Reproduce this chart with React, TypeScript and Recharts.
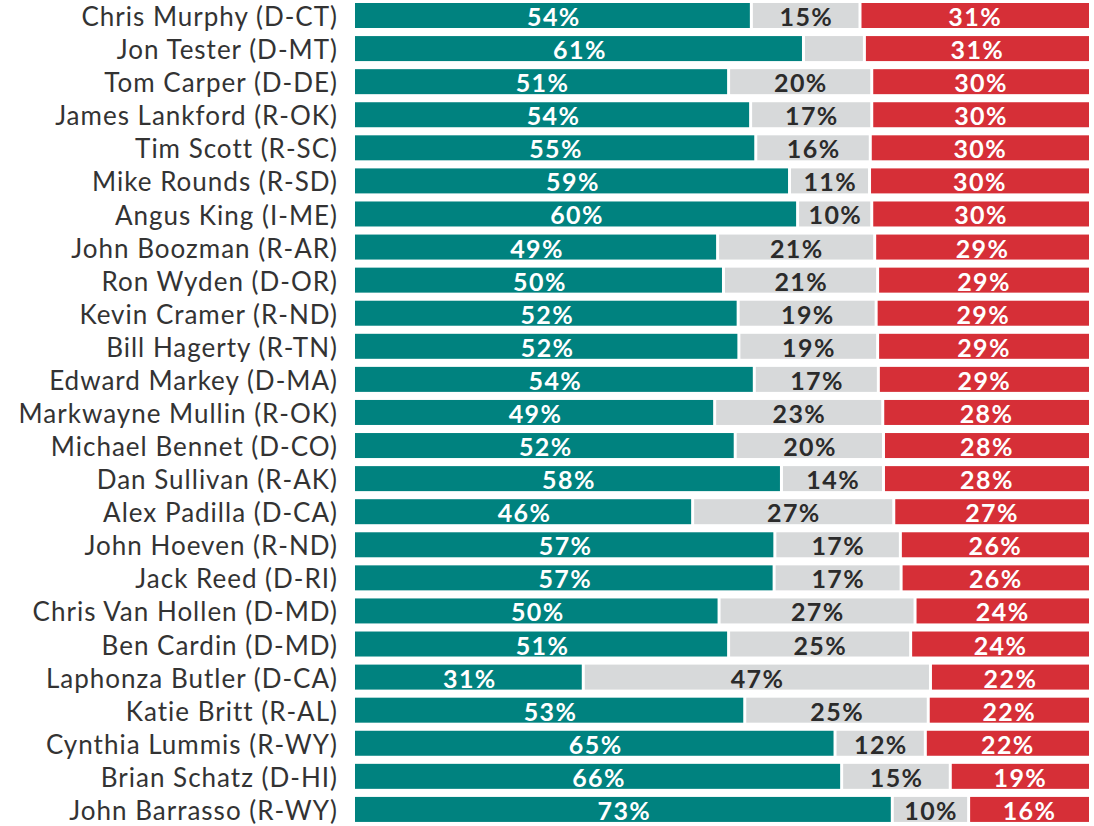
import { BarChart, Bar, XAxis, YAxis, LabelList } from 'recharts'

const senators = [
  'Chris Murphy (D-CT)',
  'Jon Tester (D-MT)',
  'Tom Carper (D-DE)',
  'James Lankford (R-OK)',
  'Tim Scott (R-SC)',
  'Mike Rounds (R-SD)',
  'Angus King (I-ME)',
  'John Boozman (R-AR)',
  'Ron Wyden (D-OR)',
  'Kevin Cramer (R-ND)',
  'Bill Hagerty (R-TN)',
  'Edward Markey (D-MA)',
  'Markwayne Mullin (R-OK)',
  'Michael Bennet (D-CO)',
  'Dan Sullivan (R-AK)',
  'Alex Padilla (D-CA)',
  'John Hoeven (R-ND)',
  'Jack Reed (D-RI)',
  'Chris Van Hollen (D-MD)',
  'Ben Cardin (D-MD)',
  'Laphonza Butler (D-CA)',
  'Katie Britt (R-AL)',
  'Cynthia Lummis (R-WY)',
  'Brian Schatz (D-HI)',
  'John Barrasso (R-WY)',
]

// teal / gray / red shares
const tealValues = [
  54.0, 61.1, 50.9, 53.9, 54.6, 59.2, 60.3, 49.4, 50.2, 52.2, 52.3, 54.4, 49.0,
  51.8, 58.1, 46.0, 57.2, 57.1, 49.6, 50.9, 31.1, 53.1, 65.4, 66.3, 73.2,
]
const grayValues = [
  14.8, 8.3, 19.5, 16.5, 15.6, 10.9, 10.1, 21.4, 21.0, 18.8, 18.9, 16.9, 22.9,
  20.2, 13.9, 27.4, 17.1, 17.3, 26.7, 24.8, 47.3, 25.0, 12.3, 14.8, 10.4,
]
const redValues = [
  31.2, 30.6, 29.6, 29.6, 29.8, 29.9, 29.6, 29.2, 28.8, 29.0, 28.8, 28.7, 28.1,
  28.0, 28.0, 26.6, 25.7, 25.6, 23.7, 24.3, 21.6, 21.9, 22.3, 18.9, 16.4,
]

const TEAL = '#00827f'
const GRAY = '#d7d9da'
const RED = '#d62f37'
const FONT = 'Lato, "Open Sans", sans-serif'

const data = senators.map((name, i) => ({
  name,
  teal: tealValues[i],
  gray: grayValues[i],
  red: redValues[i],
}))

// segments are separated by a thin white gap
function segmentShape(fill: string, left: number, right: number) {
  return (props: any) => {
    const { x, y, width, height } = props
    return (
      <rect
        x={x + left}
        y={y}
        width={Math.max(0, width - left - right)}
        height={height}
        fill={fill}
      />
    )
  }
}

function segmentLabel(color: string) {
  return (props: any) => {
    const { x, y, width, height, value } = props
    if (value == null || value < 9) return null
    return (
      <text
        x={x + width / 2 + 0.7}
        y={y + height / 2 + 0.5}
        textAnchor="middle"
        dominantBaseline="central"
        fill={color}
        fontFamily={FONT}
        fontWeight={700}
        fontSize={25}
        letterSpacing={1.4}
      >
        {Math.round(value)}%
      </text>
    )
  }
}

function NameTick(props: any) {
  const { x, y, payload } = props
  return (
    <text
      x={x + 1}
      y={y + 0.5}
      textAnchor="end"
      dominantBaseline="central"
      fill="#333"
      fontFamily={FONT}
      fontSize={26}
      letterSpacing={1}
    >
      {payload.value}
    </text>
  )
}

export default function App() {
  return (
    <div style={{ position: 'absolute', left: 0, top: 0, background: '#fff' }}>
      <BarChart
        width={1094}
        height={826}
        data={data}
        layout="vertical"
        barSize={25}
        margin={{ top: -1, right: 5, bottom: 0, left: 0 }}
      >
        <XAxis type="number" domain={[0, 100]} hide />
        <YAxis
          type="category"
          dataKey="name"
          width={355}
          axisLine={false}
          tickLine={false}
          interval={0}
          tick={<NameTick />}
          tickMargin={12}
        />
        <Bar
          dataKey="teal"
          stackId="s"
          fill={TEAL}
          shape={segmentShape(TEAL, 0, 1.5)}
          isAnimationActive={false}
        >
          <LabelList dataKey="teal" content={segmentLabel('#fff')} />
        </Bar>
        <Bar
          dataKey="gray"
          stackId="s"
          fill={GRAY}
          shape={segmentShape(GRAY, 1.5, 1.5)}
          isAnimationActive={false}
        >
          <LabelList dataKey="gray" content={segmentLabel('#2b2b2b')} />
        </Bar>
        <Bar
          dataKey="red"
          stackId="s"
          fill={RED}
          shape={segmentShape(RED, 1.5, 0)}
          isAnimationActive={false}
        >
          <LabelList dataKey="red" content={segmentLabel('#fff')} />
        </Bar>
      </BarChart>
    </div>
  )
}
